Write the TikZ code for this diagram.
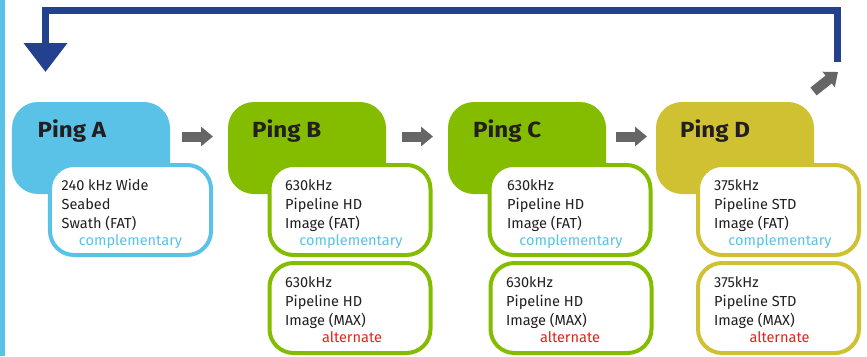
\documentclass[tikz,border=0pt]{standalone}
\usepackage{fontspec}
\usepackage{graphicx}
\setmainfont{Fira Sans}
\usetikzlibrary{arrows.meta}
\definecolor{lblue}{HTML}{5BC2E7}
\definecolor{lgreen}{HTML}{84BD00}
\definecolor{olive}{HTML}{D0C133}
\definecolor{dblue}{HTML}{24418F}
\definecolor{agray}{HTML}{666666}
\definecolor{txt}{HTML}{231F20}
\definecolor{altred}{HTML}{E2231A}
\newcommand{\pingtitle}[1]{\scalebox{1.1}[1]{#1}}
\tikzset{
  blob/.style={rounded corners=26bp, minimum width=158bp, minimum height=92bp, inner sep=0pt},
  infobox/.style={draw, fill=white, line width=4bp, rounded corners=24bp, minimum width=161bp, minimum height=90bp, inner sep=0pt},
  title/.style={anchor=base west, inner sep=0pt, text=txt, font=\fontsize{22}{24}\selectfont\bfseries},
  body/.style={anchor=north west, inner sep=0pt, align=left, text=txt, font=\fontsize{14.6}{19.2}\selectfont},
  tag/.style={anchor=base, inner sep=0pt, font=\fontsize{14.6}{19.2}\selectfont},
  garrow/.style={draw=agray, line width=10bp, -{Triangle[length=12bp,width=19bp]}},
}
\begin{document}
\begin{tikzpicture}[x=1bp,y=-1bp]
\useasboundingbox (0,0) rectangle (867,356);
\fill[lblue] (0,0) rectangle (4.5,356);
% blobs
\node[blob, fill=lblue] (pa) at (91,148) {};
\node[blob, fill=lgreen] (pb) at (307,148) {};
\node[blob, fill=lgreen] (pc) at (527,148) {};
\node[blob, fill=olive] (pd) at (735,148) {};
\node[title] (ta) at (37.5,137.3) {\pingtitle{Ping A}};
\node[title] (tb) at (252,137.3) {\pingtitle{Ping B}};
\node[title] (tc) at (473,137.3) {\pingtitle{Ping C}};
\node[title] (td) at (680,137.3) {\pingtitle{Ping D}};
% info boxes
\node[infobox, draw=lblue] (a1) at (130.5,210) {};
\node[infobox, draw=lgreen] (b1) at (350,210) {};
\node[infobox, draw=lgreen] (b2) at (350,308) {};
\node[infobox, draw=lgreen] (c1) at (570,210) {};
\node[infobox, draw=lgreen] (c2) at (571,308) {};
\node[infobox, draw=olive] (d1) at (778.5,210) {};
\node[infobox, draw=olive] (d2) at (778.5,308) {};
% texts
\node[body] (a1t) at (61.5,176.6) {\strut 240 kHz Wide\\Seabed\\Swath (FAT)};
\node[tag, text=lblue] (a1g) at (130.5,245.8) {complementary};
\node[body] (b1t) at (285,176.6) {\strut 630kHz\\Pipeline HD\\Image (FAT)};
\node[tag, text=lblue] (b1g) at (351,245.8) {complementary};
\node[body] (b2t) at (285,273.6) {\strut 630kHz\\Pipeline HD\\Image (MAX)};
\node[tag, text=altred] (b2g) at (352,342.8) {alternate};
\node[body] (c1t) at (507,176.6) {\strut 630kHz\\Pipeline HD\\Image (FAT)};
\node[tag, text=lblue] (c1g) at (571,245.8) {complementary};
\node[body] (c2t) at (506,273.6) {\strut 630kHz\\Pipeline HD\\Image (MAX)};
\node[tag, text=altred] (c2g) at (570,342.8) {alternate};
\node[body] (d1t) at (714,176.6) {\strut 375kHz\\Pipeline STD\\Image (FAT)};
\node[tag, text=lblue] (d1g) at (780,245.8) {complementary};
\node[body] (d2t) at (714,273.6) {\strut 375kHz\\Pipeline STD\\Image (MAX)};
\node[tag, text=altred] (d2g) at (779.5,342.8) {alternate};
% gray arrows
\coordinate (ab1) at (182,136.5); \coordinate (ab2) at (213,136.5);
\coordinate (bc1) at (402,136.5); \coordinate (bc2) at (433,136.5);
\coordinate (cd1) at (616,136.5); \coordinate (cd2) at (647,136.5);
\coordinate (dl1) at (813.5,91.5); \coordinate (dl2) at (838,72);
\draw[garrow] (ab1) -- (ab2);
\draw[garrow] (bc1) -- (bc2);
\draw[garrow] (cd1) -- (cd2);
\draw[garrow] (dl1) -- (dl2);
% loop back
\coordinate (lp1) at (837.5,62);
\coordinate (lp2) at (45.5,72);
\draw[dblue, line width=7.5bp, line join=miter, -{Triangle[length=29bp,width=42bp]}] (lp1) |- (45.5,10.5) -- (lp2);
\end{tikzpicture}
\end{document}
